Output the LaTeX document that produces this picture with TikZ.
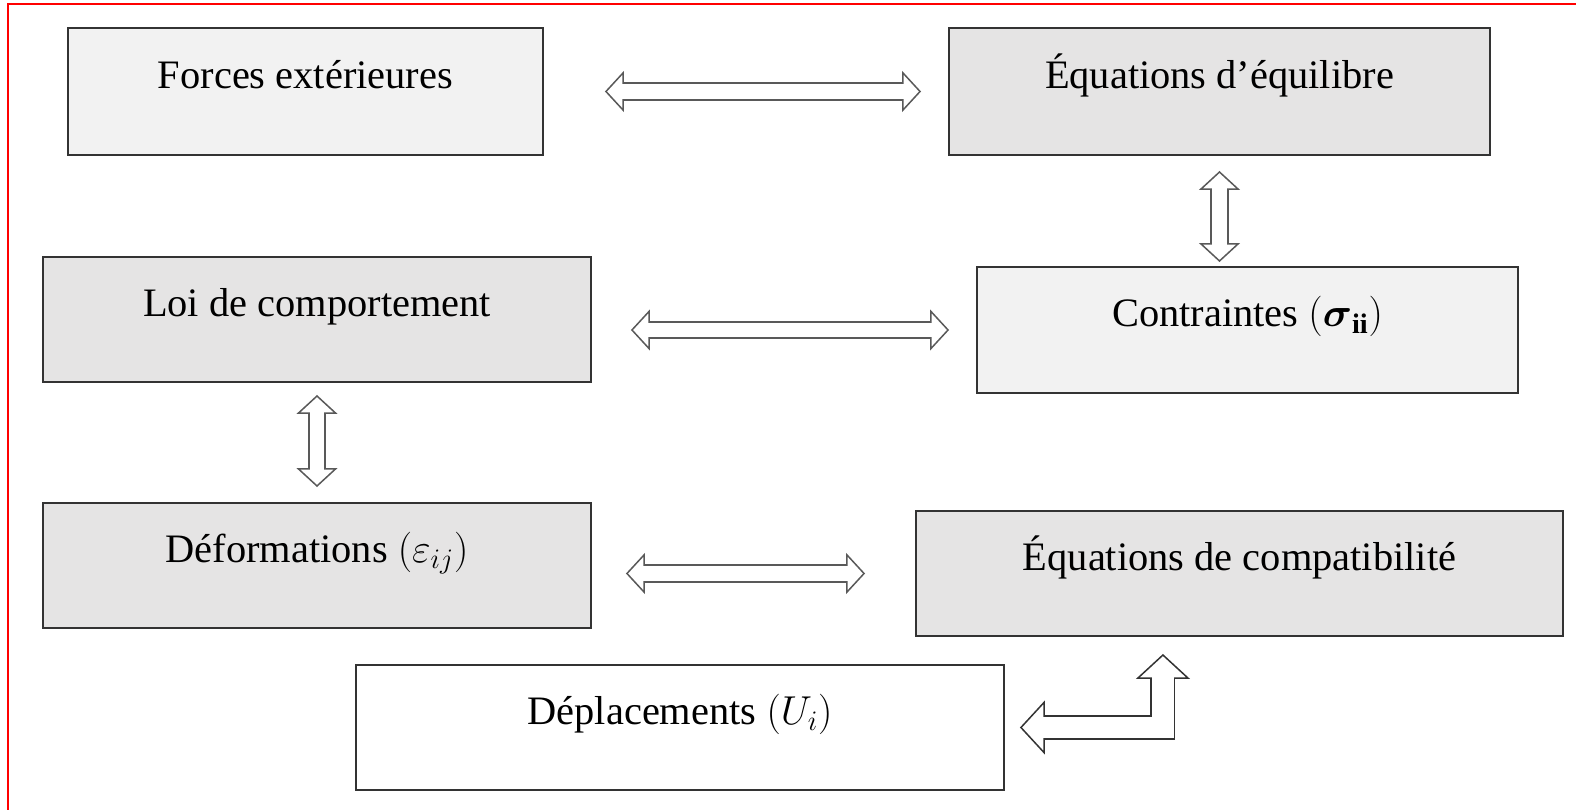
\documentclass[tikz,border=0pt]{standalone}
\usepackage{fix-cm}
\usepackage{amsmath}
\usepackage{fontspec}
\setmainfont{Liberation Serif}
\usepackage{tikz}
\usetikzlibrary{arrows.meta,calc}

\definecolor{boxlight}{HTML}{F2F2F2}
\definecolor{boxdark}{HTML}{E5E4E4}

\begin{document}
\begin{tikzpicture}[x=0.02cm,y=-0.02cm,
    box/.style={rectangle,draw=black!80,line width=0.4mm,text height=6mm,text depth=7.2mm,font=\fontsize{23}{27}\selectfont},
    hollow/.style 2 args={draw=black!65,line width=3.7mm,
      >={Triangle[length=3.8mm,width=8.2mm,line width=0.3mm,fill=white]},<->,
      shorten <=#1,shorten >=#2,
      postaction={draw=white,line width=2.9mm,arrows=-,shorten <=#1+3.3mm,shorten >=#2+3.3mm}},
    hollowbig/.style 2 args={draw=black!80,line width=5mm,
      >={Triangle[length=5mm,width=10.8mm,line width=0.3mm,fill=white]},<->,
      shorten <=#1,shorten >=#2,
      postaction={draw=white,line width=4.4mm,arrows=-,shorten <=#1+4.5mm,shorten >=#2+4.5mm}}]
    \useasboundingbox (0,0) rectangle (1576,810);
    \draw[red,line width=0.35mm] (8.3,810) -- (8.3,4) -- (1576,4);

    \node[box,fill=boxlight,minimum width=9.5cm,minimum height=2.54cm] (forces) at (305.5,91.5) {Forces extérieures};
    \node[box,fill=boxdark,minimum width=10.82cm,minimum height=2.54cm] (equil) at (1219.5,91.5) {Équations d’équilibre};
    \node[box,fill=boxdark,minimum width=10.96cm,minimum height=2.5cm] (loi) at (317,319.5) {Loi de comportement};
    \node[box,fill=boxlight,minimum width=10.82cm,minimum height=2.52cm] (cont) at (1247.5,330) {Contraintes $(\boldsymbol{\sigma}_{\mathbf{ii}})$};
    \node[box,fill=boxdark,minimum width=10.96cm,minimum height=2.5cm] (def) at (317,565.5) {Déformations $(\varepsilon_{ij})$};
    \node[box,fill=boxdark,minimum width=12.94cm,minimum height=2.5cm] (comp) at (1239.5,573.5) {Équations de compatibilité};
    \node[box,fill=white,minimum width=12.96cm,minimum height=2.5cm] (dep) at (680,727.5) {Déplacements $(U_i)$};

    \draw[hollow={12.2mm}{5.4mm}] (forces) -- (equil);
    \draw[hollow={3mm}{0.8mm}] (equil.south) -- (equil.south |- cont.north);
    \draw[hollow={7.8mm}{5.4mm}] (loi.east |- cont.west) -- (cont.west);
    \draw[hollow={2.4mm}{3mm}] (loi) -- (def);
    \draw[hollow={6.8mm}{10mm}] (def.east |- comp.west) -- (comp.west);
    \draw[hollowbig={3mm}{3.4mm}] (dep.east) -| ($(comp.south west)!0.382!(comp.south east)$);
  \end{tikzpicture}
\end{document}
